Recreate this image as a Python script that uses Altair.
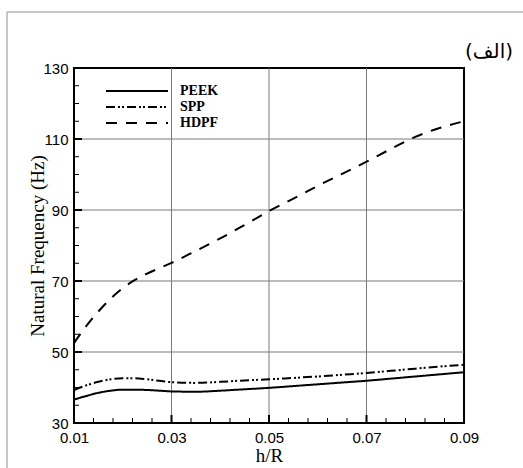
import altair as alt
import pandas as pd
import numpy as np

x_vals = [0.01, 0.0125, 0.015, 0.0175, 0.02, 0.0225, 0.025, 0.0275, 0.03, 0.035, 0.04,
          0.045, 0.05, 0.055, 0.06, 0.065, 0.07, 0.075, 0.08, 0.085, 0.09]
peek = [36.6, 37.6, 38.5, 39.1, 39.4, 39.4, 39.3, 39.1, 38.9, 38.8, 39.1,
        39.5, 39.9, 40.4, 40.9, 41.4, 41.9, 42.5, 43.1, 43.7, 44.3]
spp = [39.3, 40.6, 41.6, 42.3, 42.6, 42.6, 42.3, 41.9, 41.5, 41.3, 41.6,
       42.0, 42.3, 42.7, 43.1, 43.6, 44.1, 44.7, 45.3, 45.9, 46.4]
hdpf = [52.5, 57.3, 61.4, 65.0, 68.0, 70.3, 72.1, 73.6, 75.1, 78.5, 82.0,
        85.8, 89.7, 93.2, 96.8, 100.2, 103.6, 107.2, 110.6, 113.1, 115.0]

series_names = ["PEEK", "SPP", "HDPF"]
series_dash = {"PEEK": [1, 0], "SPP": [9, 3, 2, 2, 2, 3], "HDPF": [11, 9]}

x_ticks = [0.01, 0.03, 0.05, 0.07, 0.09]
y_ticks = [30, 50, 70, 90, 110, 130]
x_minor = [round(v, 4) for v in np.arange(0.01, 0.0901, 0.004)]
y_minor = list(range(30, 131, 5))

W, H = 390, 355
xdom = [0.01, 0.09]
ydom = [30, 130]

xs = alt.Scale(domain=xdom, nice=False, zero=False)
ys = alt.Scale(domain=ydom, nice=False, zero=False)

# grid
xgrid = alt.Chart(pd.DataFrame({"x": [0.03, 0.05, 0.07]})).mark_rule(
    color="#7a7a7a", strokeWidth=1).encode(
    x=alt.X("x:Q", scale=xs, axis=alt.Axis(
        values=x_ticks, format=".2f", title="h/R", domain=False, ticks=False, grid=False,
        labelFlush=False, labelOverlap=False,
        labelFont="Liberation Sans", labelFontSize=15, labelColor="black", labelPadding=7,
        titleFont="Liberation Serif", titleFontSize=19, titleFontWeight="normal",
        titleColor="black", titleY=32, titleBaseline="middle")))
ygrid = alt.Chart(pd.DataFrame({"y": [50, 70, 90, 110]})).mark_rule(
    color="#7a7a7a", strokeWidth=1).encode(
    y=alt.Y("y:Q", scale=ys, axis=alt.Axis(
        values=y_ticks, title="Natural Frequency (Hz)", domain=False, ticks=False, grid=False,
        labelFlush=False, labelOverlap=False,
        labelFont="Liberation Sans", labelFontSize=15, labelColor="black", labelPadding=6,
        titleFont="Liberation Serif", titleFontSize=19, titleFontWeight="normal",
        titleColor="black", titleX=-37, titleBaseline="middle")))

layers = [xgrid, ygrid]

for name, vals in zip(series_names, [peek, spp, hdpf]):
    d = pd.DataFrame({"x": x_vals, "y": vals})
    layers.append(alt.Chart(d).mark_line(
        color="black", strokeWidth=2, strokeDash=series_dash[name], interpolate="monotone").encode(
        x=alt.X("x:Q", scale=xs), y=alt.Y("y:Q", scale=ys)))

# inward ticks
xmaj = [v for v in x_minor if any(abs(v - t) < 1e-6 for t in [0.03, 0.05, 0.07])]
xmin_ = [v for v in x_minor if v not in xmaj]
layers.append(alt.Chart(pd.DataFrame({"x": xmin_})).mark_rule(color="black", strokeWidth=1).encode(
    x=alt.X("x:Q", scale=xs), y=alt.value(H), y2=alt.value(H - 5)))
layers.append(alt.Chart(pd.DataFrame({"x": xmaj})).mark_rule(color="black", strokeWidth=2).encode(
    x=alt.X("x:Q", scale=xs), y=alt.value(H), y2=alt.value(H - 8)))
ymaj = [50, 70, 90, 110]
ymin_ = [v for v in y_minor if v % 20 != 10]
layers.append(alt.Chart(pd.DataFrame({"y": ymin_})).mark_rule(color="black", strokeWidth=1).encode(
    y=alt.Y("y:Q", scale=ys), x=alt.value(0), x2=alt.value(5)))
layers.append(alt.Chart(pd.DataFrame({"y": ymaj})).mark_rule(color="black", strokeWidth=2).encode(
    y=alt.Y("y:Q", scale=ys), x=alt.value(0), x2=alt.value(8)))

# legend
for i, name in enumerate(series_names):
    yy = 23 + 16 * i
    layers.append(alt.Chart(pd.DataFrame({"s": [name]})).mark_rule(
        color="black", strokeWidth=2, strokeDash=series_dash[name]).encode(
        x=alt.value(32), x2=alt.value(94), y=alt.value(yy)))
    layers.append(alt.Chart(pd.DataFrame({"s": [name]})).mark_text(
        font="Liberation Serif", fontSize=14, fontWeight="bold", align="left",
        baseline="middle", color="black").encode(
        x=alt.value(106), y=alt.value(yy), text="s:N"))

# outer light frame
layers.append(alt.Chart(pd.DataFrame({"a": [0]})).mark_rule(color="#b4b4b4", strokeWidth=1.5).encode(
    x=alt.value(-67), y=alt.value(-56), y2=alt.value(H + 60)))
layers.append(alt.Chart(pd.DataFrame({"a": [0]})).mark_rule(color="#b4b4b4", strokeWidth=1.5).encode(
    x=alt.value(-67), x2=alt.value(W + 70), y=alt.value(-56)))

# panel label
layers.append(alt.Chart(pd.DataFrame({"t": ["(الف)"]})).mark_text(
    font="DejaVu Sans", fontSize=20, align="right", baseline="middle", color="black").encode(
    x=alt.value(439), y=alt.value(-16), text="t:N"))

chart = alt.layer(*layers).properties(
    width=W, height=H,
    autosize=alt.AutoSizeParams(type="none"),
    padding={"left": 74, "top": 68, "right": 59, "bottom": 45},
    background="white",
).configure_view(stroke="black", strokeWidth=2)

chart.save("out.html", embed_options={"renderer": "svg", "actions": False})
